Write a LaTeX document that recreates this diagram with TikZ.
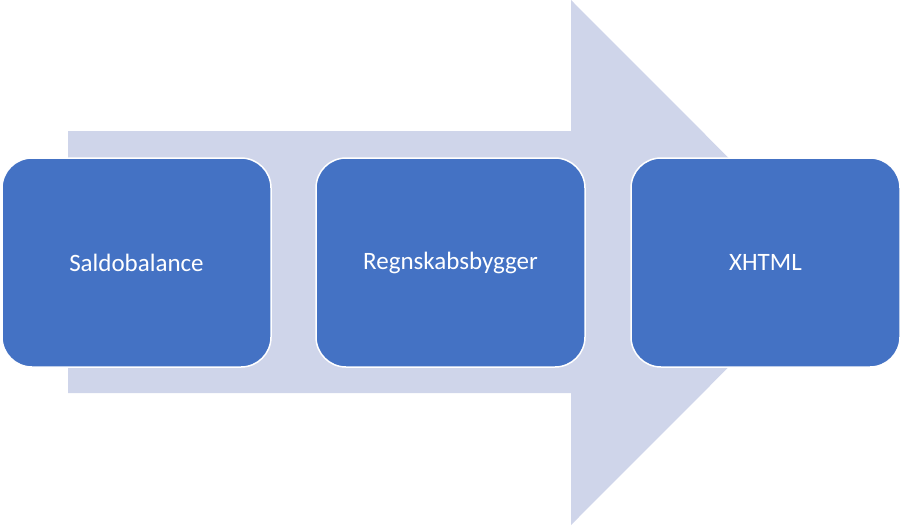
\documentclass[tikz,border=0pt]{standalone}
\usepackage{fontspec}
\setmainfont{Carlito}
\usepackage{tikz}
\definecolor{boxblue}{HTML}{4472C4}
\definecolor{arrowgray}{HTML}{CFD5EA}

\begin{document}
\begin{tikzpicture}[x = 1pt, y = -1pt,
    stepbox/.style = {rounded corners = 30pt, fill = boxblue, draw = white, line width = 1.5pt,
        minimum width = 269pt, minimum height = 209pt, text = white, font = \fontsize{25}{30}\selectfont}]
\useasboundingbox (0,0) rectangle (902,525);

% big arrow behind the boxes
\fill[arrowgray] (68,131) -- (571,131) -- (571,0) -- (833,262.5) -- (571,525) -- (571,393) -- (68,393) -- cycle;

\draw (136.5,262.5) node[stepbox](b1){Saldobalance}
    (450.5,262.5) node[stepbox](b2){Regnskabsbygger}
    (765.5,262.5) node[stepbox](b3){XHTML};

\end{tikzpicture}
\end{document}
